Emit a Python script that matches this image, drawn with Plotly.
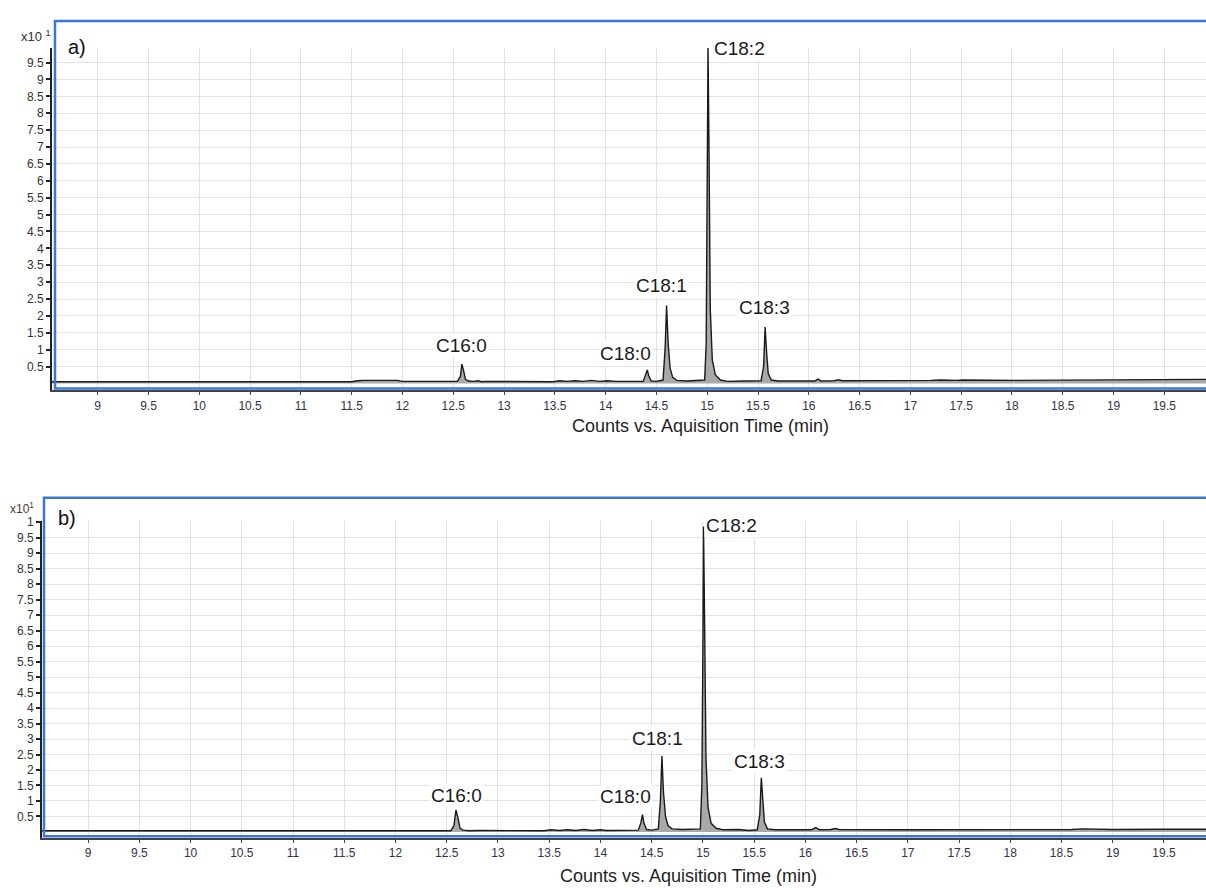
import plotly.graph_objects as go

W, H = 1206, 888

# ---------------- data (intensity in x10^1 counts) ----------------
time_a = [8.55, 11.50, 11.56, 11.62, 11.80, 11.95, 12.00, 12.54, 12.57, 12.585, 12.60, 12.62,
          12.65, 12.70, 12.74, 12.78, 12.82, 13.48, 13.55, 13.62, 13.70, 13.78, 13.86, 13.94,
          14.02, 14.10, 14.37, 14.395, 14.41, 14.425, 14.45, 14.50, 14.565, 14.585, 14.60,
          14.615, 14.635, 14.66, 14.70, 14.80, 14.975, 14.99, 15.00, 15.008, 15.018, 15.03,
          15.05, 15.08, 15.13, 15.20, 15.35, 15.53, 15.555, 15.57, 15.585, 15.60, 15.63, 15.70,
          16.06, 16.09, 16.12, 16.25, 16.29, 16.33, 17.20, 17.30, 17.45, 17.52, 18.00, 18.60,
          19.00, 19.50, 19.95]
signal_a = [0.05, 0.05, 0.08, 0.09, 0.09, 0.09, 0.06, 0.06, 0.20, 0.57, 0.40, 0.12,
            0.07, 0.06, 0.08, 0.05, 0.06, 0.05, 0.08, 0.06, 0.08, 0.06, 0.09, 0.06,
            0.08, 0.06, 0.06, 0.25, 0.40, 0.22, 0.07, 0.06, 0.10, 1.00, 2.31,
            1.20, 0.45, 0.18, 0.09, 0.07, 0.10, 1.20, 5.50, 9.94, 6.80, 2.20,
            0.70, 0.25, 0.10, 0.06, 0.07, 0.08, 0.50, 1.67, 0.90, 0.30, 0.10, 0.07,
            0.07, 0.13, 0.07, 0.08, 0.11, 0.08, 0.09, 0.10, 0.09, 0.10, 0.09, 0.10,
            0.11, 0.12, 0.12]

time_b = [8.55, 12.54, 12.57, 12.59, 12.61, 12.63, 12.66, 12.72, 12.80, 13.45, 13.52, 13.60,
          13.68, 13.76, 13.84, 13.92, 14.00, 14.06, 14.37, 14.395, 14.41, 14.425, 14.45, 14.50,
          14.565, 14.585, 14.60, 14.615, 14.635, 14.66, 14.70, 14.80, 14.975, 14.99, 15.00,
          15.006, 15.016, 15.03, 15.05, 15.08, 15.13, 15.20, 15.35, 15.45, 15.53, 15.555, 15.57,
          15.585, 15.60, 15.63, 15.70, 16.06, 16.10, 16.14, 16.25, 16.29, 16.33, 17.00, 18.00,
          18.60, 18.70, 19.00, 19.50, 19.95]
signal_b = [0.04, 0.04, 0.20, 0.71, 0.45, 0.12, 0.06, 0.04, 0.05, 0.04, 0.07, 0.05,
            0.07, 0.05, 0.08, 0.05, 0.07, 0.05, 0.06, 0.30, 0.56, 0.28, 0.08, 0.06,
            0.10, 1.00, 2.45, 1.30, 0.50, 0.20, 0.10, 0.08, 0.10, 1.50, 6.00,
            9.86, 7.00, 2.40, 0.80, 0.28, 0.12, 0.07, 0.08, 0.05, 0.07, 0.55, 1.75,
            0.95, 0.32, 0.10, 0.07, 0.07, 0.14, 0.07, 0.08, 0.11, 0.08, 0.07, 0.07,
            0.08, 0.10, 0.08, 0.09, 0.09]

peak_names = ["C16:0", "C18:0", "C18:1", "C18:2", "C18:3"]
# label anchor positions (time, intensity) per panel
label_pos_a = [(12.58, 1.12), (14.20, 0.90), (14.55, 2.90), (15.045, 9.91), (15.56, 2.26)]
label_pos_b = [(12.60, 1.17), (14.24, 1.14), (14.56, 3.02), (15.015, 9.90), (15.55, 2.29)]

x_ticks = [9 + 0.5 * i for i in range(22)]
x_tick_text = ["9", "9.5", "10", "10.5", "11", "11.5", "12", "12.5", "13", "13.5", "14", "14.5",
               "15", "15.5", "16", "16.5", "17", "17.5", "18", "18.5", "19", "19.5"]
y_ticks_a = [0.5 * i for i in range(1, 20)]
y_text_a = ["0.5", "1", "1.5", "2", "2.5", "3", "3.5", "4", "4.5", "5", "5.5", "6", "6.5",
            "7", "7.5", "8", "8.5", "9", "9.5"]
y_ticks_b = [0.5 * i for i in range(1, 21)]
y_text_b = y_text_a + ["1"]

x_title = "Counts vs. Aquisition Time (min)"

# ---------------- styling / geometry ----------------
FONT = "Arial, Liberation Sans, sans-serif"
BLUE = "#3b78d6"
GRID = "#e2e2e2"


def py(px):
    return 1 - px / H


def pxx(px):
    return px / W


fig = go.Figure()

for t, s, xa, ya in [(time_a, signal_a, "x", "y"), (time_b, signal_b, "x2", "y2")]:
    fig.add_trace(go.Scatter(x=t, y=s, xaxis=xa, yaxis=ya, mode="lines",
                             line=dict(color="#1a1a1a", width=1.4),
                             fill="tozeroy", fillcolor="#a9a9a9",
                             hoverinfo="skip", showlegend=False))

common_x = dict(range=[8.55, 19.91], tickvals=x_ticks, ticktext=x_tick_text,
                showgrid=True, gridcolor=GRID, gridwidth=1, zeroline=False,
                showline=True, linecolor="#444", linewidth=1.5,
                ticks="outside", ticklen=3, tickcolor="#444",
                tickfont=dict(family=FONT, size=12, color="#333345"))
common_y = dict(showgrid=True, gridcolor=GRID, gridwidth=1, zeroline=False,
                showline=True, linecolor="#222", linewidth=2,
                ticks="outside", ticklen=4, tickcolor="#222", tickwidth=1.5,
                tickfont=dict(family=FONT, size=12, color="#333"))

fig.update_layout(
    width=W, height=H, margin=dict(l=0, r=0, t=0, b=0),
    paper_bgcolor="white", plot_bgcolor="white",
    xaxis=dict(domain=[pxx(52), 1], anchor="y", **common_x),
    yaxis=dict(domain=[py(387), py(42)], anchor="x",
               range=[-7 / 34, 338 / 34], tickvals=y_ticks_a, ticktext=y_text_a, **common_y),
    xaxis2=dict(domain=[pxx(42), 1], anchor="y2", **common_x),
    yaxis2=dict(domain=[py(838), py(519)], anchor="x2",
                range=[-6.4 / 31.2, 312.6 / 31.2], tickvals=y_ticks_b, ticktext=y_text_b, **common_y),
)

# blue frames
fig.add_shape(type="path", xref="paper", yref="paper",
              path=f"M 1.01 {py(15)} L {pxx(55)} {py(15)} L {pxx(55)} {py(385)} L 1.01 {py(385)}",
              line=dict(color=BLUE, width=2.5), layer="above")
fig.add_shape(type="path", xref="paper", yref="paper",
              path=f"M 1.01 {py(495)} L {pxx(44)} {py(495)} L {pxx(44)} {py(836)} L 1.01 {py(836)}",
              line=dict(color=BLUE, width=2.5), layer="above")

# peak labels
for pos, xa, ya in [(label_pos_a, "x", "y"), (label_pos_b, "x2", "y2")]:
    for name, (lx, ly) in zip(peak_names, pos):
        fig.add_annotation(x=lx, y=ly, xref=xa, yref=ya, text=name, showarrow=False,
                           xanchor="left" if name == "C18:2" else "center", yanchor="middle",
                           bgcolor="white", borderpad=1,
                           font=dict(family=FONT, size=19, color="#1a1a1a"))

# axis titles
for xc, yc in [(700, 423), (688, 876)]:
    fig.add_annotation(x=pxx(xc), y=py(yc), xref="paper", yref="paper", text=x_title,
                       showarrow=False, xanchor="center", yanchor="middle",
                       font=dict(family=FONT, size=18, color="#1e1e1e"))

# panel letters
fig.add_annotation(x=pxx(66), y=py(41), xref="paper", yref="paper", text="a)", showarrow=False,
                   xanchor="left", yanchor="middle", font=dict(family=FONT, size=20, color="#111"))
fig.add_annotation(x=pxx(56), y=py(515), xref="paper", yref="paper", text="b)", showarrow=False,
                   xanchor="left", yanchor="middle", font=dict(family=FONT, size=20, color="#111"))

# exponent labels
fig.add_annotation(x=pxx(19), y=py(30), xref="paper", yref="paper", text="x10 <sup>1</sup>",
                   showarrow=False, xanchor="left", yanchor="middle",
                   font=dict(family=FONT, size=13, color="#333"))
fig.add_annotation(x=pxx(8), y=py(505), xref="paper", yref="paper", text="x10<sup>1</sup>",
                   showarrow=False, xanchor="left", yanchor="middle",
                   font=dict(family=FONT, size=12, color="#4a3a2a"))

post = ("document.body.style.margin='0';document.body.style.overflow='hidden';"
        "var d=document.getElementById('{plot_id}');d.style.position='absolute';"
        "d.style.left='0px';d.style.top='0px';")
fig.write_html("out.html", post_script=post, config={"displayModeBar": False})
